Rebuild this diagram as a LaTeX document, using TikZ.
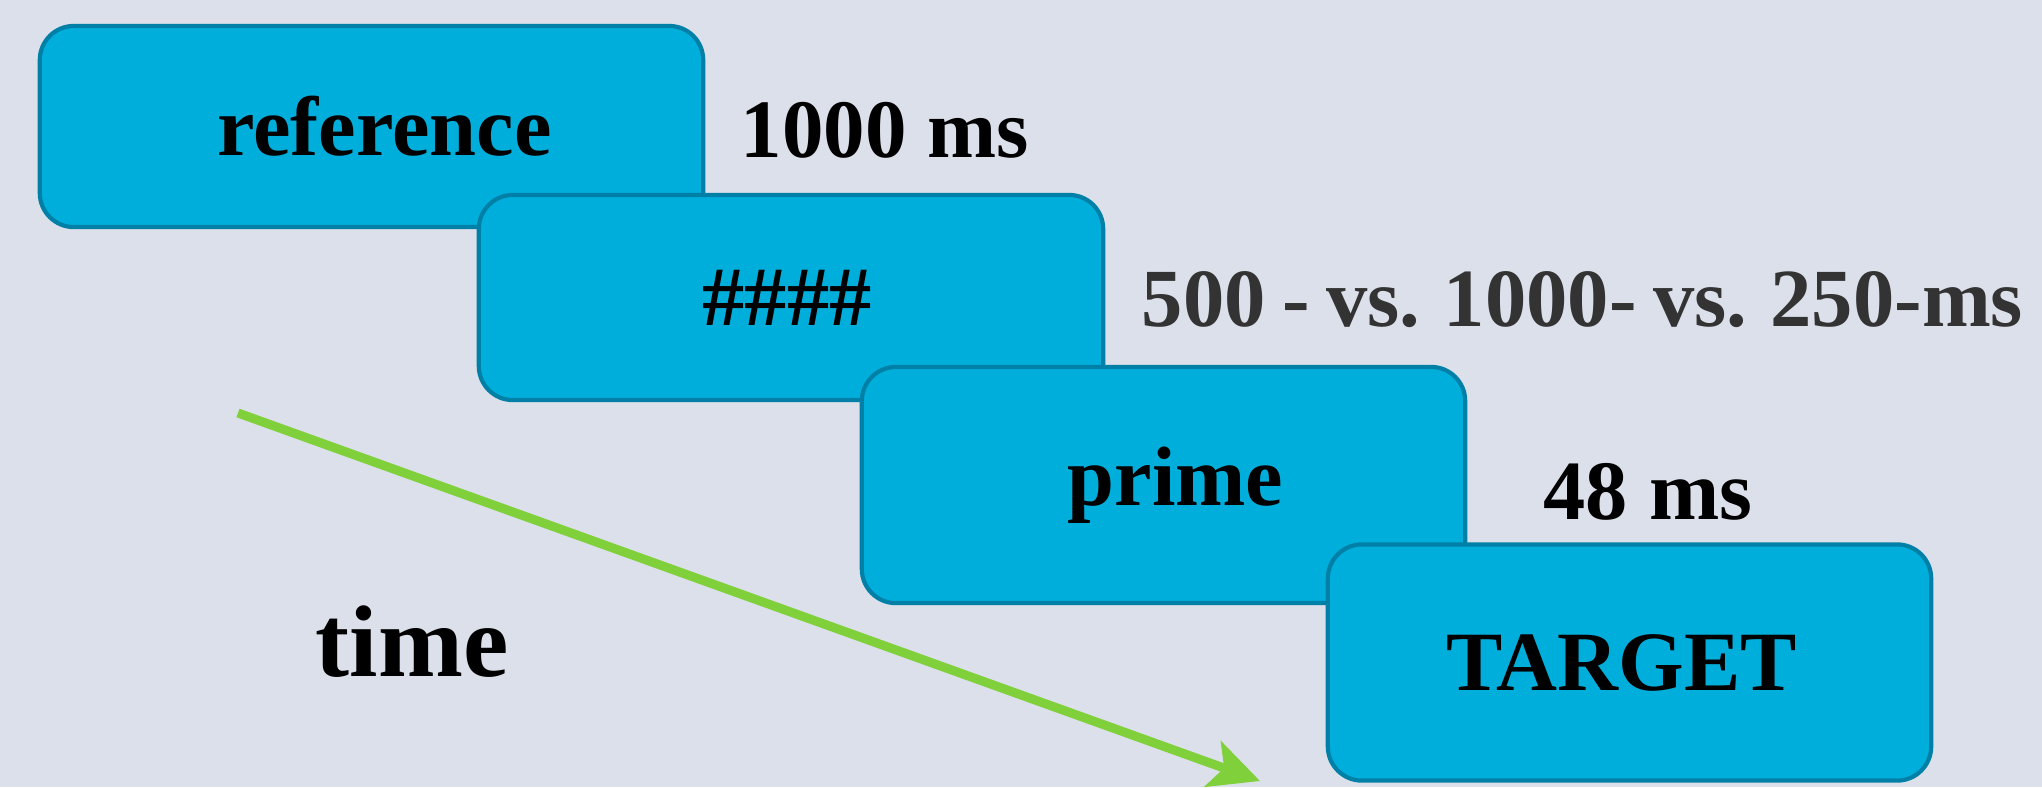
\documentclass[tikz,border=0pt]{standalone}
\usepackage{fontspec}
\setmainfont{Liberation Serif}
\usetikzlibrary{arrows.meta}
\definecolor{bgcol}{HTML}{DCE0EA}
\definecolor{boxfill}{HTML}{00AEDC}
\definecolor{boxline}{HTML}{0080A6}
\definecolor{arrowgreen}{HTML}{7FD03A}
\definecolor{labelgrey}{HTML}{333333}
\begin{document}
\begin{tikzpicture}[x = 0.01cm, y = -0.01cm,
  slide/.style = {draw = boxline, fill = boxfill, line width = 1.2pt, rounded corners = 0.34cm,
    minimum width = 6.03cm, minimum height = 2.36cm, font = \fontsize{24}{28}\selectfont\bfseries},
  duration/.style = {anchor = west, inner sep = 0pt, font = \fontsize{24}{28}\selectfont\bfseries}]
\useasboundingbox (0,0) rectangle (2042,787);
\fill[bgcol] (0,0) rectangle (2042,787);
\node[slide, minimum width = 6.63cm, minimum height = 2.01cm] (reference) at (371.5,126.5) {\hspace*{0.26cm}reference};
\node[duration, font = \fontsize{23.6}{28}\selectfont\bfseries] (t1) at (740,130) {1000 ms};
\node[slide, minimum width = 6.24cm, minimum height = 2.05cm] (mask) at (791,297.5) {\#\#\#\#\hspace*{0.08cm}};
\node[duration, labelgrey, font = \fontsize{23.5}{28}\selectfont\bfseries] (t2) at (1141,300) {\spaceskip=0.2em\relax 500 - vs. 1000- vs. 250-ms};
\node[slide] (prime) at (1163.5,485) {\hspace*{0.24cm}prime};
\node[duration] (t3) at (1543,492) {48 ms};
\coordinate (start) at (238,413);
\coordinate (stop) at (1260,781);
\draw[arrowgreen, line width = 0.09cm, -{Stealth[length = 0.5cm, width = 0.48cm, inset = 0.12cm]}] (start) -- (stop);
\node[font = \fontsize{29}{34}\selectfont\bfseries] (time) at (412,642) {time};
\node[slide] (target) at (1629.5,662.5) {TARGET\hspace*{0.16cm}};
\end{tikzpicture}
\end{document}
